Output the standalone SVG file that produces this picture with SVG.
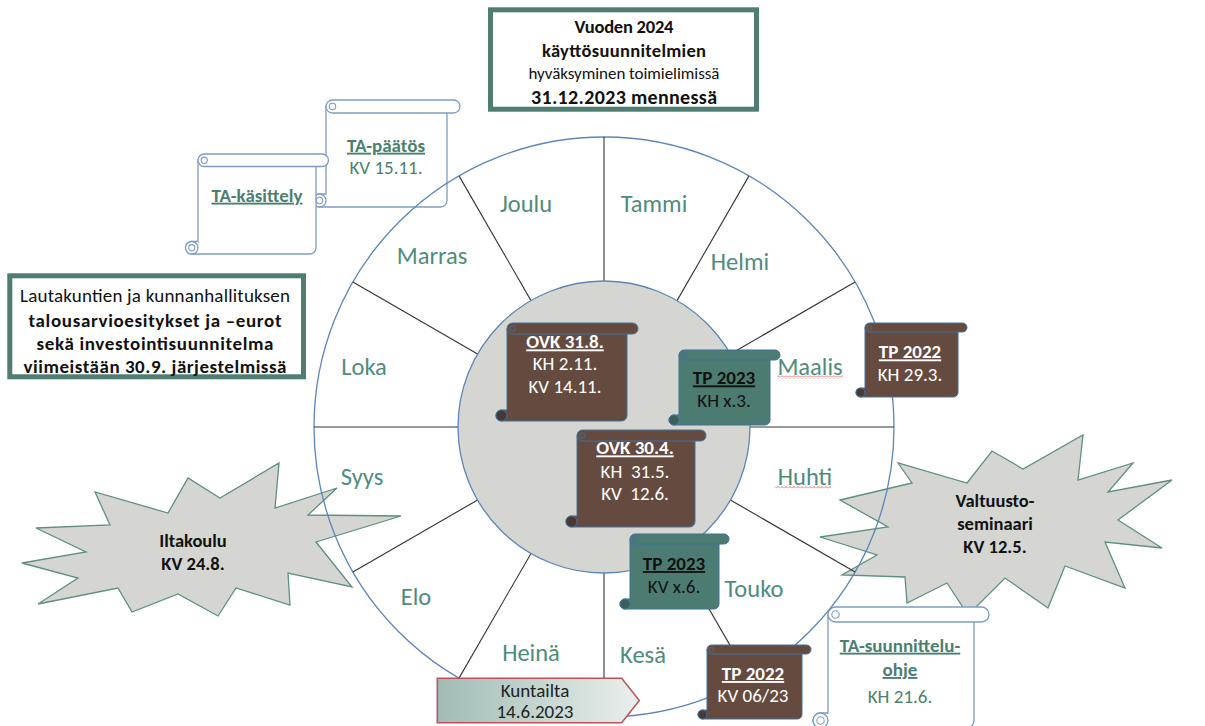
<svg xmlns="http://www.w3.org/2000/svg" width="1205" height="726" viewBox="0 0 1205 726">
<defs>
<linearGradient id="gk" x1="0" y1="0" x2="1" y2="0">
<stop offset="0" stop-color="#9fbcb4"/>
<stop offset="1" stop-color="#eaefed"/>
</linearGradient>
<pattern id="sq" width="4" height="3" patternUnits="userSpaceOnUse">
<path d="M0,2.5 L2,0.5 L4,2.5" fill="none" stroke="#e04848" stroke-width="0.8"/>
</pattern>
</defs>
<style>
text{font-family:Carlito,Lato,"Liberation Sans",sans-serif;text-anchor:middle}
.m{font-size:24.5px;fill:#4e8c7c}
.t{font-size:19px}
.s17{font-size:17px}
.s185{font-size:18.5px}
.s20{font-size:20px}
.b{font-weight:bold}
.u{text-decoration:underline}
.w{fill:#ffffff}
.k{fill:#111111}
.g{fill:#4b8070}
.sb .s{fill:#654b3f;stroke:#41719c;stroke-width:1}
.sb .d{fill:#4c382f;stroke:#41719c;stroke-width:1}
.st .s{fill:#4c7c71;stroke:#41719c;stroke-width:1}
.st .d{fill:#3a6158;stroke:#41719c;stroke-width:1}
.sw .s{fill:#ffffff;stroke:#7d9cc8;stroke-width:1.3}
.sw .d{fill:#ffffff;stroke:#7d9cc8;stroke-width:1.3}
.c{fill:none;stroke:#41719c;stroke-width:0.9}
.sw .c{stroke:#7d9cc8;stroke-width:1.1}
.star{fill:#d5d6d2;stroke:#5e8f82;stroke-width:1.3;stroke-linejoin:miter}
.box{fill:#ffffff;stroke:#507d72;stroke-width:5}
.spoke{stroke:#333333;stroke-width:1.1}
</style>

<g id="iltakoulu">
<polygon class="star" points="36,528 110,525 95,492 168,513 188,478 220,498 279,463 275,508 337,488 308,515 401,516 316,542 352,587 288,573 290,605 236,588 218,616 178,594 132,612 118,588 38,604 78,578 22,563 86,552"/>
<text class="s185 b k" x="193" y="546.5">Iltakoulu</text>
<text class="s185 b k" x="193" y="569.8">KV 24.8.</text>
</g>

<g id="valtuustoseminaari">
<polygon class="star" points="840,500 912,483 898,463 967,483 992,451 1023,469 1083,435 1078,480 1133,463 1108,492 1172,480 1118,520 1162,548 1105,542 1125,588 1065,566 1048,608 1005,578 968,615 947,583 907,603 905,577 842,575 877,555 820,537 888,527"/>
<text class="s185 b k" x="995" y="506.5">Valtuusto-</text>
<text class="s185 b k" x="995" y="529.5">seminaari</text>
<text class="s185 b k" x="995" y="553.2">KV 12.5.</text>
</g>

<g id="ta-paatos" class="sw">
<path class="s" d="M326,106.5 H447 V200.5 A6.5 6.5 0 0 1 440.5,207 H319.5 A6.5 6.5 0 0 1 319.5,194 H326 Z"/>
<path class="s" d="M332.5,100 H453.5 A6.5 6.5 0 0 1 453.5,113 H332.5 A6.5 6.5 0 0 1 332.5,100 Z"/>
<circle class="d" cx="319.5" cy="200.5" r="6.5"/>
<circle class="c" cx="332.5" cy="106.5" r="3.2"/>
<circle class="c" cx="319.5" cy="200.5" r="3.2"/>
<text class="t b u g" x="386" y="151.7">TA-päätös</text>
<text class="t g" x="386" y="174">KV 15.11.</text>
</g>

<g id="ta-kasittely" class="sw">
<path class="s" d="M198,160.25 H316 V247.75 A6.25 6.25 0 0 1 309.75,254 H191.75 A6.25 6.25 0 0 1 191.75,241.5 H198 Z"/>
<path class="s" d="M204.25,154 H322.25 A6.25 6.25 0 0 1 322.25,166.5 H204.25 A6.25 6.25 0 0 1 204.25,154 Z"/>
<circle class="d" cx="191.75" cy="247.75" r="6.25"/>
<circle class="c" cx="204.25" cy="160.25" r="3.1"/>
<circle class="c" cx="191.75" cy="247.75" r="3.1"/>
<text class="t b u g" x="257" y="201.7">TA-käsittely</text>
</g>

<g id="ta-suunnitteluohje" class="sw">
<path class="s" d="M828,614.5 H974 V720.5 A7.5 7.5 0 0 1 966.5,728 H820.5 A7.5 7.5 0 0 1 820.5,713 H828 Z"/>
<path class="s" d="M835.5,607 H981.5 A7.5 7.5 0 0 1 981.5,622 H835.5 A7.5 7.5 0 0 1 835.5,607 Z"/>
<circle class="d" cx="820.5" cy="720.5" r="7.5"/>
<circle class="c" cx="835.5" cy="614.5" r="3.7"/>
<circle class="c" cx="820.5" cy="720.5" r="3.7"/>
<text class="t b u g" x="900" y="651.7">TA-suunnittelu-</text>
<text class="t b u g" x="900" y="676">ohje</text>
<text class="t g" x="900" y="703.4">KH 21.6.</text>
</g>

<g id="kayttosuunnitelmat">
<rect class="box" x="490.5" y="9.8" width="266" height="99.4"/>
<text class="s185 b k" x="624" y="33.2" textLength="99">Vuoden 2024</text>
<text class="s185 b k" x="624" y="56.5" textLength="164">käyttösuunnitelmien</text>
<text class="s17 k" x="624" y="79.3" textLength="191">hyväksyminen toimielimissä</text>
<text class="s20 b k" x="624" y="103.5" textLength="186">31.12.2023 mennessä</text>
</g>

<g id="talousarvioesitykset">
<rect class="box" x="9.8" y="275.8" width="293.7" height="101"/>
<text class="t k" x="155" y="301.7" textLength="270">Lautakuntien ja kunnanhallituksen</text>
<text class="t b k" x="155" y="326.7" textLength="253">talousarvioesitykset ja –eurot</text>
<text class="t b k" x="155" y="350" textLength="237">sekä investointisuunnitelma</text>
<text class="t b k" x="155" y="372.7" textLength="263">viimeistään 30.9. järjestelmissä</text>
</g>

<g id="wheel">
<circle cx="604" cy="427" r="290" fill="none" stroke="#5b86b8" stroke-width="1.3"/>
</g>

<g id="connectors">
<line class="spoke" x1="750" y1="427" x2="894" y2="427"/>
<line class="spoke" x1="730.4" y1="354" x2="855.1" y2="282"/>
<line class="spoke" x1="677" y1="300.6" x2="749" y2="175.9"/>
<line class="spoke" x1="604" y1="281" x2="604" y2="137"/>
<line class="spoke" x1="531" y1="300.6" x2="459" y2="175.9"/>
<line class="spoke" x1="477.6" y1="354" x2="352.9" y2="282"/>
<line class="spoke" x1="458" y1="427" x2="314" y2="427"/>
<line class="spoke" x1="477.6" y1="500" x2="352.9" y2="572"/>
<line class="spoke" x1="531" y1="553.4" x2="459" y2="678.1"/>
<line class="spoke" x1="604" y1="573" x2="604" y2="717"/>
<line class="spoke" x1="677" y1="553.4" x2="749" y2="678.1"/>
<line class="spoke" x1="730.4" y1="500" x2="855.1" y2="572"/>
</g>

<g id="hub">
<circle cx="604" cy="427" r="146" fill="#d5d6d2" stroke="#5b86b8" stroke-width="1.3"/>
</g>

<g id="months">
<text class="m" x="654" y="211.8">Tammi</text>
<text class="m" x="526" y="211.8">Joulu</text>
<text class="m" x="740" y="269.8">Helmi</text>
<text class="m" x="432" y="264.3">Marras</text>
<text class="m" x="810" y="374.5">Maalis</text>
<text class="m" x="364" y="374.5">Loka</text>
<text class="m" x="805" y="484.5">Huhti</text>
<text class="m" x="362" y="484.5">Syys</text>
<text class="m" x="754" y="596.8">Touko</text>
<text class="m" x="416" y="604.6">Elo</text>
<text class="m" x="531" y="660.8">Heinä</text>
<text class="m" x="643" y="663.2">Kesä</text>
<rect x="777" y="375.5" width="66" height="3" fill="url(#sq)"/>
<rect x="775" y="485.5" width="56" height="3" fill="url(#sq)"/>
</g>

<g id="ovk-31-8" class="sb">
<path class="s" d="M507,328.5 H627 V415.5 A5.5 5.5 0 0 1 621.5,421 H501.5 A5.5 5.5 0 0 1 501.5,410 H507 Z"/>
<path class="s" d="M512.5,323 H632.5 A5.5 5.5 0 0 1 632.5,334 H512.5 A5.5 5.5 0 0 1 512.5,323 Z"/>
<circle class="d" cx="501.5" cy="415.5" r="5.5"/>
<circle class="c" cx="512.5" cy="328.5" r="2.7"/>
<text class="t b u w" x="565" y="348.4">OVK 31.8.</text>
<text class="t w" x="565" y="369.7">KH 2.11.</text>
<text class="t w" x="565" y="393.4">KV 14.11.</text>
</g>

<g id="tp2023-kh" class="st">
<path class="s" d="M679,355 H770 V420 A5 5 0 0 1 765,425 H674 A5 5 0 0 1 674,415 H679 Z"/>
<path class="s" d="M684,350 H775 A5 5 0 0 1 775,360 H684 A5 5 0 0 1 684,350 Z"/>
<circle class="d" cx="674" cy="420" r="5"/>
<circle class="c" cx="684" cy="355" r="2.5"/>
<text class="t b u k" x="724" y="384.4">TP 2023</text>
<text class="t k" x="724" y="407.4">KH x.3.</text>
</g>

<g id="ovk-30-4" class="sb">
<path class="s" d="M577,435.5 H695 V521.5 A5.5 5.5 0 0 1 689.5,527 H571.5 A5.5 5.5 0 0 1 571.5,516 H577 Z"/>
<path class="s" d="M582.5,430 H700.5 A5.5 5.5 0 0 1 700.5,441 H582.5 A5.5 5.5 0 0 1 582.5,430 Z"/>
<circle class="d" cx="571.5" cy="521.5" r="5.5"/>
<circle class="c" cx="582.5" cy="435.5" r="2.7"/>
<text class="t b u w" x="635" y="454.4">OVK 30.4.</text>
<text class="t w" x="635" y="477.7" xml:space="preserve">KH  31.5.</text>
<text class="t w" x="635" y="499.7" xml:space="preserve">KV  12.6.</text>
</g>

<g id="tp2022-kh" class="sb">
<path class="s" d="M865,327.5 H958 V392.5 A4.5 4.5 0 0 1 953.5,397 H860.5 A4.5 4.5 0 0 1 860.5,388 H865 Z"/>
<path class="s" d="M869.5,323 H962.5 A4.5 4.5 0 0 1 962.5,332 H869.5 A4.5 4.5 0 0 1 869.5,323 Z"/>
<circle class="d" cx="860.5" cy="392.5" r="4.5"/>
<circle class="c" cx="869.5" cy="327.5" r="2.2"/>
<text class="t b u w" x="910" y="358.4">TP 2022</text>
<text class="t w" x="910" y="381">KH 29.3.</text>
</g>

<g id="tp2023-kv" class="st">
<path class="s" d="M630,539 H719 V604 A5 5 0 0 1 714,609 H625 A5 5 0 0 1 625,599 H630 Z"/>
<path class="s" d="M635,534 H724 A5 5 0 0 1 724,544 H635 A5 5 0 0 1 635,534 Z"/>
<circle class="d" cx="625" cy="604" r="5"/>
<circle class="c" cx="635" cy="539" r="2.5"/>
<text class="t b u k" x="674" y="570">TP 2023</text>
<text class="t k" x="674" y="592.7">KV x.6.</text>
</g>

<g id="tp2022-kv" class="sb">
<path class="s" d="M707,649.5 H802 V714.5 A4.5 4.5 0 0 1 797.5,719 H702.5 A4.5 4.5 0 0 1 702.5,710 H707 Z"/>
<path class="s" d="M711.5,645 H806.5 A4.5 4.5 0 0 1 806.5,654 H711.5 A4.5 4.5 0 0 1 711.5,645 Z"/>
<circle class="d" cx="702.5" cy="714.5" r="4.5"/>
<circle class="c" cx="711.5" cy="649.5" r="2.2"/>
<text class="t b u w" x="753" y="680">TP 2022</text>
<text class="t w" x="753" y="701.7">KV 06/23</text>
</g>

<g id="kuntailta">
<polygon points="437.3,678.3 621.7,678.3 639.3,700.5 621.7,722.7 437.3,722.7" fill="url(#gk)" stroke="#c0505a" stroke-width="1.5"/>
<text class="t" fill="#222222" x="535" y="696.7">Kuntailta</text>
<text class="t" fill="#222222" x="535" y="718.4">14.6.2023</text>
</g>
</svg>
